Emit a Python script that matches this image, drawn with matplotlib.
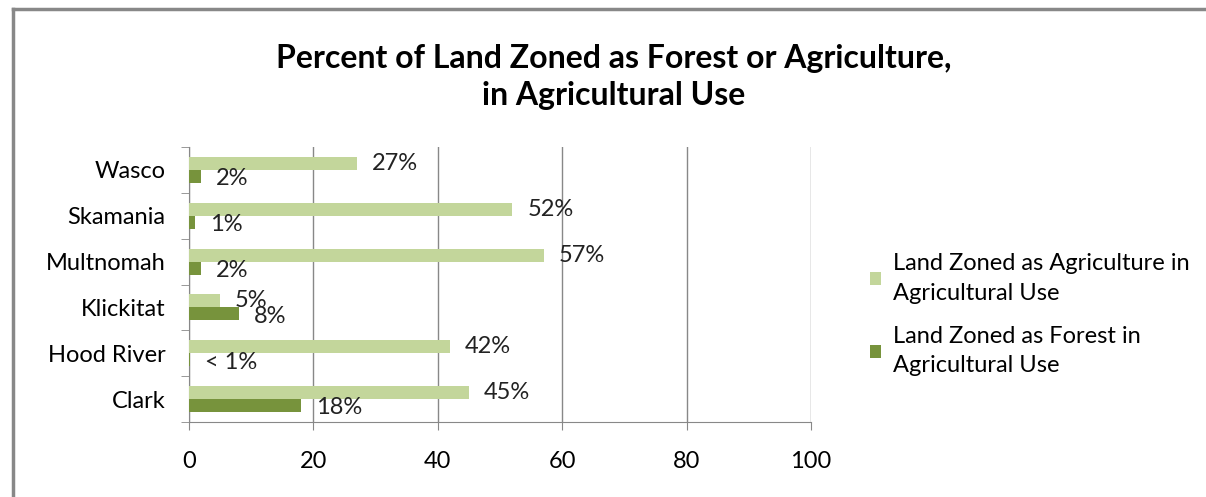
import matplotlib.pyplot as plt
import numpy as np
from matplotlib.lines import Line2D

plt.rcParams['font.family'] = ['Lato', 'DejaVu Sans']

counties = ['Clark', 'Hood River', 'Klickitat', 'Multnomah', 'Skamania', 'Wasco']
agri = [45, 42, 5, 57, 52, 27]
forest = [18, 0.2, 8, 2, 1, 2]
agri_labels = ['45%', '42%', '5%', '57%', '52%', '27%']
forest_labels = ['18%', '< 1%', '8%', '2%', '1%', '2%']

light = '#C3D69B'
dark = '#77933C'
grid_c = '#888888'
fs = 17

fig = plt.figure(figsize=(12.06, 4.97), dpi=100)
ax = fig.add_axes([0.1567, 0.1509, 0.5158, 0.5533])

y = np.arange(len(counties))
h = 0.285
ax.barh(y + h / 2, agri, height=h, color=light, label='Land Zoned as Agriculture in\nAgricultural Use', zorder=3)
ax.barh(y - h / 2, forest, height=h, color=dark, label='Land Zoned as Forest in\nAgricultural Use', zorder=3)

for i in range(len(counties)):
    ax.text(agri[i] + 2.4, y[i] + h / 2, agri_labels[i], va='center', fontsize=fs, color='#222222', zorder=4)
    ax.text(forest[i] + 2.4, y[i] - h / 2 - 0.05, forest_labels[i], va='center', fontsize=fs, color='#222222', zorder=4)

ax.set_xlim(0, 100)
ax.set_ylim(-0.5, len(counties) - 0.5)
ax.set_xticks([0, 20, 40, 60, 80, 100])
ax.set_yticks(y)
ax.set_yticklabels(counties)
ax.set_yticks(np.arange(-0.5, len(counties)), minor=True)
ax.tick_params(axis='y', which='major', length=0, pad=17, labelsize=fs)
ax.tick_params(axis='y', which='minor', length=6, color=grid_c, direction='out')
ax.tick_params(axis='x', length=6, color=grid_c, pad=15, labelsize=fs)
ax.xaxis.grid(True, color=grid_c, linewidth=1, zorder=0)

for s in ['top', 'right']:
    ax.spines[s].set_visible(False)
for s in ['left', 'bottom']:
    ax.spines[s].set_color(grid_c)

fig.text(0.509, 0.845, 'Percent of Land Zoned as Forest or Agriculture,\nin Agricultural Use',
         ha='center', va='center', fontsize=23, fontweight='bold', linespacing=1.3)

leg = ax.legend(loc='center left', bbox_to_anchor=(1.08, 0.39), frameon=False, fontsize=fs,
                handlelength=0.45, handleheight=0.45, handletextpad=0.5, labelspacing=0.95,
                borderaxespad=0)
for t in leg.get_texts():
    t.set_linespacing(1.5)

# chart frame (top and left edges visible)
fig.add_artist(Line2D([13 / 1206, 1], [1 - 9 / 497, 1 - 9 / 497], color='#888888', linewidth=2.5))
fig.add_artist(Line2D([13 / 1206, 13 / 1206], [0, 1 - 9 / 497], color='#888888', linewidth=2.5))

plt.savefig('out.png', dpi=100)
